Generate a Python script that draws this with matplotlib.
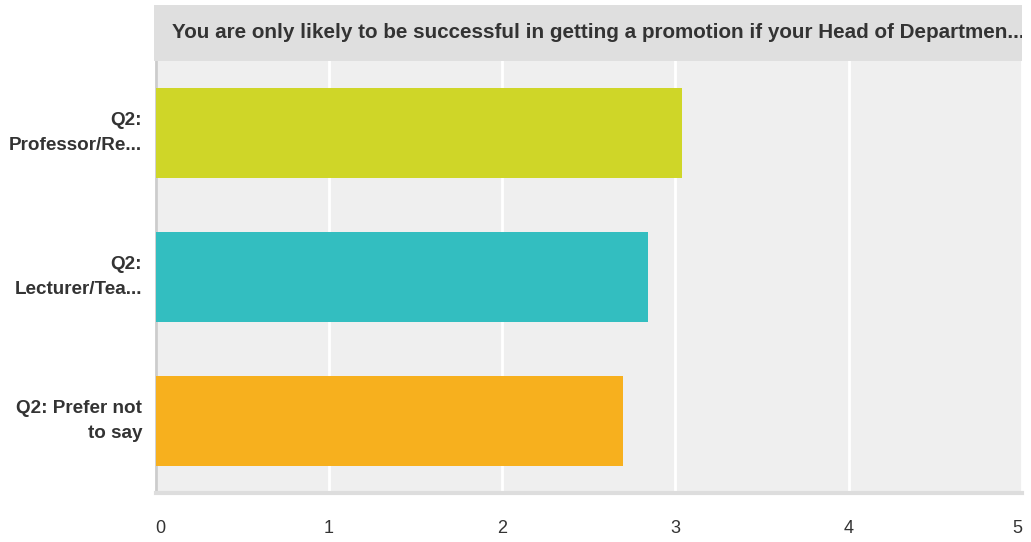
import matplotlib
matplotlib.use("Agg")
import matplotlib.pyplot as plt
from matplotlib.patches import Rectangle

categories = ["Q2:\nProfessor/Re...", "Q2:\nLecturer/Tea...", "Q2: Prefer not\nto say"]
values = [3.04, 2.84, 2.70]
colors = ["#cfd628", "#33bec0", "#f7b01e"]
xticks = [0, 1, 2, 3, 4, 5]
title = "You are only likely to be successful in getting a promotion if your Head of Departmen..."

plt.rcParams['font.family'] = ['Liberation Sans', 'DejaVu Sans']

W, H = 1031, 542
fig = plt.figure(figsize=(W / 100, H / 100), dpi=100)

L, R, T, B = 155.5, 1022, 61, 493
ax = fig.add_axes([L / W, 1 - B / H, (R - L) / W, (B - T) / H])
ax.set_facecolor("#efefef")

y = list(range(len(categories)))
ax.barh(y, values, height=0.63, color=colors, zorder=3)
ax.set_ylim(2.5, -0.5)
ax.set_xlim(0, 5)
ax.set_yticks(y)
ax.set_yticklabels(categories, fontsize=13.6, fontweight="bold", color="#333333",
                   ha="right", va="center", multialignment="right", linespacing=1.55)
ax.set_xticks(xticks)
xl = ax.set_xticklabels([str(t) for t in xticks], fontsize=13, color="#333333")
xl[0].set_ha("left")
xl[-1].set_ha("right")
ax.tick_params(axis="both", length=0)
ax.tick_params(axis="y", pad=9.7)
ax.tick_params(axis="x", pad=19.5)
ax.grid(axis="x", color="white", linewidth=2, zorder=1)
for s in ["top", "right"]:
    ax.spines[s].set_visible(False)
ax.spines["left"].set_color("#cccccc")
ax.spines["left"].set_linewidth(2)
ax.spines["bottom"].set_color("#dddddd")
ax.spines["bottom"].set_linewidth(3)

# title band
band = Rectangle((154 / W, 1 - 61 / H), (R - 154) / W, 56 / H,
                 transform=fig.transFigure, facecolor="#dfdfdf", edgecolor="none", zorder=0)
fig.patches.append(band)
t = fig.text(172 / W, 1 - 32 / H, title, fontsize=14.9, fontweight="bold",
             color="#333333", ha="left", va="center")
t.set_clip_path(band)

fig.savefig("out.png", dpi=100, facecolor="white")
